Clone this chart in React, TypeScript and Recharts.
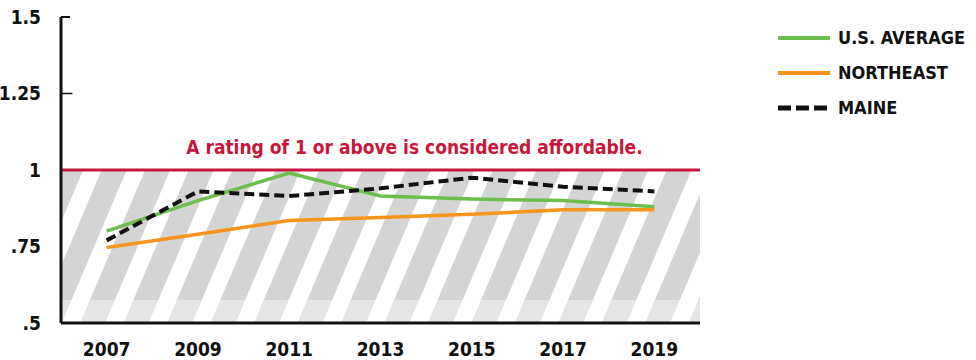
import {
  LineChart, Line, XAxis, YAxis, ReferenceLine, ReferenceArea,
} from "recharts";

const YEARS = [2007, 2009, 2011, 2013, 2015, 2017, 2019];
const US_AVERAGE = [0.8, 0.9, 0.99, 0.915, 0.905, 0.9, 0.88];
const NORTHEAST = [0.747, 0.79, 0.835, 0.845, 0.855, 0.87, 0.87];
const MAINE = [0.77, 0.93, 0.915, 0.94, 0.975, 0.945, 0.93];
const Y_TICKS = [0.5, 0.75, 1, 1.25, 1.5];
const Y_LABELS: Record<number, string> = { 0.5: ".5", 0.75: ".75", 1: "1", 1.25: "1.25", 1.5: "1.5" };

const SERIES = [
  { key: "us", name: "U.S. AVERAGE", color: "#6cbf4c", dash: undefined as string | undefined },
  { key: "ne", name: "NORTHEAST", color: "#f7941d", dash: undefined as string | undefined },
  { key: "me", name: "MAINE", color: "#111111", dash: "10 5" },
];

const data = YEARS.map((year, i) => ({ year, us: US_AVERAGE[i], ne: NORTHEAST[i], me: MAINE[i] }));

const FONT = '"DejaVu Sans Condensed", "Liberation Sans Narrow", Arial, sans-serif';
const RED = "#c8163a";

function LegendBox() {
  return (
    <div style={{ position: "absolute", left: 776, top: 20, fontFamily: FONT, fontWeight: 700, fontSize: 18, color: "#111" }}>
      {SERIES.map((s) => (
        <div key={s.key} style={{ display: "flex", alignItems: "center", height: 35 }}>
          <svg width={58} height={10} style={{ marginRight: 4 }}>
            <line x1={2} y1={5} x2={54} y2={5} stroke={s.color} strokeWidth={s.dash ? 5 : 4} strokeDasharray={s.dash ? "13 5" : undefined} />
          </svg>
          {s.name}
        </div>
      ))}
    </div>
  );
}

export default function App() {
  return (
    <div style={{ position: "absolute", left: 0, top: 0, width: 976, height: 360, background: "#fff" }}>
      <LineChart width={976} height={360} data={data} margin={{ top: 17, right: 276, left: 0, bottom: 0 }}>
        <defs>
          <pattern id="hatch" patternUnits="userSpaceOnUse" width={40} height={40} patternTransform="rotate(23)">
            <rect x={0} y={0} width={40} height={40} fill="#ffffff" />
            <rect x={0} y={0} width={23} height={40} fill="#d4d4d4" />
          </pattern>
        </defs>
        <ReferenceArea y1={0.5} y2={1} fill="url(#hatch)" fillOpacity={1} ifOverflow="hidden" />
        <ReferenceArea y1={0.5} y2={0.575} fill="#ffffff" fillOpacity={0.4} ifOverflow="hidden" />
        <XAxis
          dataKey="year" type="number" domain={[2006, 2020]} ticks={YEARS} height={37}
          axisLine={{ stroke: "#111", strokeWidth: 3 }} tickLine={false} tickMargin={14}
          tick={{ fontFamily: FONT, fontWeight: 700, fontSize: 19, fill: "#111" }}
        />
        <YAxis
          type="number" domain={[0.5, 1.5]} ticks={Y_TICKS} width={61} interval={0}
          axisLine={{ stroke: "#111", strokeWidth: 3 }} tickLine={false} tickMargin={14}
          tickFormatter={(v: number) => Y_LABELS[v] ?? String(v)}
          tick={{ fontFamily: FONT, fontWeight: 700, fontSize: 19, fill: "#111" }}
        />
        <ReferenceLine segment={[{ x: 2006, y: 1.25 }, { x: 2006.25, y: 1.25 }]} stroke="#111" strokeWidth={1.5} />
        <ReferenceLine segment={[{ x: 2006, y: 1.5 }, { x: 2006.2, y: 1.5 }]} stroke="#111" strokeWidth={2} />
        <ReferenceLine
          y={1} stroke={RED} strokeWidth={3}
          label={{
            value: "A rating of 1 or above is considered affordable.", position: "insideTop", dy: -34, dx: 34,
            fill: RED, fontFamily: FONT, fontWeight: 700, fontSize: 19,
          }}
        />
        {SERIES.map((s) => (
          <Line
            key={s.key} dataKey={s.key} name={s.name} type="linear" stroke={s.color}
            strokeWidth={s.dash ? 4 : 3.5} strokeDasharray={s.dash} dot={false} isAnimationActive={false}
          />
        ))}
      </LineChart>
      <LegendBox />
    </div>
  );
}
